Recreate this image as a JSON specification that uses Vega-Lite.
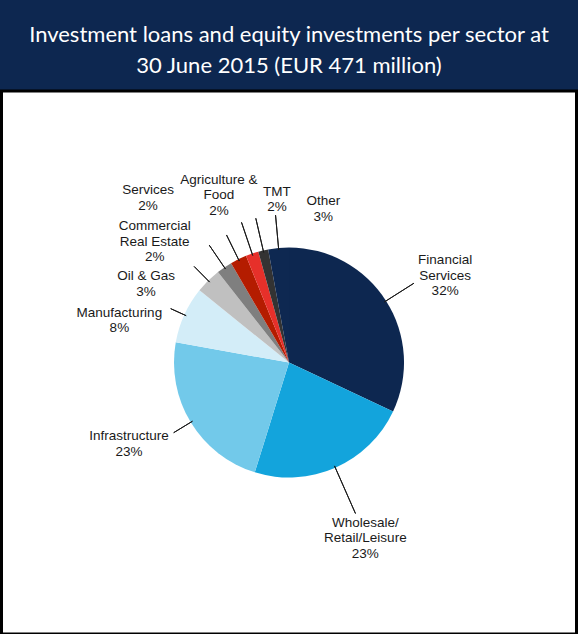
{
  "$schema": "https://vega.github.io/schema/vega-lite/v6.json",
  "width": 578,
  "height": 634,
  "autosize": {"type": "fit", "contains": "padding"},
  "padding": {"left": 1.5, "right": 1.5, "top": 23, "bottom": 0},
  "background": "#0d2750",
  "view": {"fill": "#ffffff", "stroke": "#000000", "strokeWidth": 3},
  "config": {
    "text": {"font": "Liberation Sans", "fontSize": 13.5, "lineHeight": 15.5, "fill": "#1a1a1a", "align": "center", "baseline": "middle", "lineBreak": "\n"}
  },
  "title": {
    "text": ["Investment loans and equity investments per sector at", "30 June 2015 (EUR 471 million)"],
    "color": "white",
    "font": "Lato",
    "fontSize": 22,
    "fontWeight": "normal",
    "lineHeight": 31.5,
    "anchor": "middle",
    "frame": "group",
    "offset": 13
  },
  "data": {
    "values": [
      {"sector": "Financial Services", "label": "Financial\nServices\n32%", "share": 32.0, "idx": 1},
      {"sector": "Wholesale/Retail/Leisure", "label": "Wholesale/\nRetail/Leisure\n23%", "share": 22.8, "idx": 2},
      {"sector": "Infrastructure", "label": "Infrastructure\n23%", "share": 23.0, "idx": 3},
      {"sector": "Manufacturing", "label": "Manufacturing\n8%", "share": 8.0, "idx": 4},
      {"sector": "Oil & Gas", "label": "Oil & Gas\n3%", "share": 3.6, "idx": 5},
      {"sector": "Commercial Real Estate", "label": "Commercial\nReal Estate\n2%", "share": 2.2, "idx": 6},
      {"sector": "Services", "label": "Services\n2%", "share": 2.3, "idx": 7},
      {"sector": "Agriculture & Food", "label": "Agriculture &\nFood\n2%", "share": 1.8, "idx": 8},
      {"sector": "TMT", "label": "TMT\n2%", "share": 1.4, "idx": 9},
      {"sector": "Other", "label": "Other\n3%", "share": 2.9, "idx": 10}
    ]
  },
  "layer": [
    {
      "mark": {"type": "arc", "radius": 115},
      "encoding": {
        "theta": {"field": "share", "type": "quantitative", "stack": true},
        "order": {"field": "idx", "type": "quantitative"},
        "color": {
          "field": "sector", "type": "nominal", "legend": null,
          "scale": {
            "domain": ["Financial Services", "Wholesale/Retail/Leisure", "Infrastructure", "Manufacturing", "Oil & Gas", "Commercial Real Estate", "Services", "Agriculture & Food", "TMT", "Other"],
            "range": ["#0d2750", "#13a4dc", "#72c9ea", "#d3edf8", "#c0c0c0", "#7f7f7f", "#b41c00", "#e6302a", "#333333", "#0e2851"]
          }
        }
      }
    },
    {
      "mark": {"type": "arc", "radius": 130, "radius2": 113, "padAngle": 3, "filled": false, "stroke": "#1a1a1a", "strokeWidth": 1},
      "encoding": {
        "theta": {"field": "share", "type": "quantitative", "stack": true},
        "order": {"field": "idx", "type": "quantitative"},
        "strokeOpacity": {"condition": {"test": "datum.sector === 'Manufacturing'", "value": 1}, "value": 0}
      }
    },
    {
      "mark": {"type": "arc", "radius": 135, "radius2": 113, "padAngle": 3, "filled": false, "stroke": "#1a1a1a", "strokeWidth": 1},
      "encoding": {
        "theta": {"field": "share", "type": "quantitative", "stack": true},
        "order": {"field": "idx", "type": "quantitative"},
        "strokeOpacity": {"condition": {"test": "datum.sector === 'Infrastructure' || datum.sector === 'Oil & Gas'", "value": 1}, "value": 0}
      }
    },
    {
      "mark": {"type": "arc", "radius": 142, "radius2": 113, "padAngle": 3, "filled": false, "stroke": "#1a1a1a", "strokeWidth": 1},
      "encoding": {
        "theta": {"field": "share", "type": "quantitative", "stack": true},
        "order": {"field": "idx", "type": "quantitative"},
        "strokeOpacity": {"condition": {"test": "datum.sector === 'Services' || datum.sector === 'Commercial Real Estate'", "value": 1}, "value": 0}
      }
    },
    {
      "mark": {"type": "arc", "radius": 148, "radius2": 113, "padAngle": 3, "filled": false, "stroke": "#1a1a1a", "strokeWidth": 1},
      "encoding": {
        "theta": {"field": "share", "type": "quantitative", "stack": true},
        "order": {"field": "idx", "type": "quantitative"},
        "strokeOpacity": {"condition": {"test": "indexof(['Financial Services','Agriculture & Food','TMT','Other'], datum.sector) >= 0", "value": 1}, "value": 0}
      }
    },
    {
      "mark": {"type": "arc", "radius": 165, "radius2": 113, "padAngle": 3, "filled": false, "stroke": "#1a1a1a", "strokeWidth": 1},
      "encoding": {
        "theta": {"field": "share", "type": "quantitative", "stack": true},
        "order": {"field": "idx", "type": "quantitative"},
        "strokeOpacity": {"condition": {"test": "datum.sector === 'Wholesale/Retail/Leisure'", "value": 1}, "value": 0}
      }
    },
    {
      "mark": {"type": "text", "radius": 179, "dx": 5, "dy": -6.5},
      "encoding": {
        "theta": {"field": "share", "type": "quantitative", "stack": true},
        "order": {"field": "idx", "type": "quantitative"},
        "text": {"condition": {"test": "datum.sector === 'Financial Services'", "field": "label"}, "value": ""}
      }
    },
    {
      "mark": {"type": "text", "radius": 192, "dx": -1, "dy": -15.5},
      "encoding": {
        "theta": {"field": "share", "type": "quantitative", "stack": true},
        "order": {"field": "idx", "type": "quantitative"},
        "text": {"condition": {"test": "datum.sector === 'Wholesale/Retail/Leisure'", "field": "label"}, "value": ""}
      }
    },
    {
      "mark": {"type": "text", "radius": 178, "dx": -8, "dy": -18.75},
      "encoding": {
        "theta": {"field": "share", "type": "quantitative", "stack": true},
        "order": {"field": "idx", "type": "quantitative"},
        "text": {"condition": {"test": "datum.sector === 'Infrastructure'", "field": "label"}, "value": ""}
      }
    },
    {
      "mark": {"type": "text", "radius": 171, "dx": -14, "dy": 21.25},
      "encoding": {
        "theta": {"field": "share", "type": "quantitative", "stack": true},
        "order": {"field": "idx", "type": "quantitative"},
        "text": {"condition": {"test": "datum.sector === 'Manufacturing'", "field": "label"}, "value": ""}
      }
    },
    {
      "mark": {"type": "text", "radius": 155, "dx": -34, "dy": 24.25},
      "encoding": {
        "theta": {"field": "share", "type": "quantitative", "stack": true},
        "order": {"field": "idx", "type": "quantitative"},
        "text": {"condition": {"test": "datum.sector === 'Oil & Gas'", "field": "label"}, "value": ""}
      }
    },
    {
      "mark": {"type": "text", "radius": 175, "dx": -36, "dy": 8.5},
      "encoding": {
        "theta": {"field": "share", "type": "quantitative", "stack": true},
        "order": {"field": "idx", "type": "quantitative"},
        "text": {"condition": {"test": "datum.sector === 'Commercial Real Estate'", "field": "label"}, "value": ""}
      }
    },
    {
      "mark": {"type": "text", "radius": 209, "dx": -49, "dy": 15.25},
      "encoding": {
        "theta": {"field": "share", "type": "quantitative", "stack": true},
        "order": {"field": "idx", "type": "quantitative"},
        "text": {"condition": {"test": "datum.sector === 'Services'", "field": "label"}, "value": ""}
      }
    },
    {
      "mark": {"type": "text", "radius": 181, "dx": -12, "dy": -11.5},
      "encoding": {
        "theta": {"field": "share", "type": "quantitative", "stack": true},
        "order": {"field": "idx", "type": "quantitative"},
        "text": {"condition": {"test": "datum.sector === 'Agriculture & Food'", "field": "label"}, "value": ""}
      }
    },
    {
      "mark": {"type": "text", "radius": 161, "dx": 24, "dy": -13.75},
      "encoding": {
        "theta": {"field": "share", "type": "quantitative", "stack": true},
        "order": {"field": "idx", "type": "quantitative"},
        "text": {"condition": {"test": "datum.sector === 'TMT'", "field": "label"}, "value": ""}
      }
    },
    {
      "mark": {"type": "text", "radius": 150, "dx": 48, "dy": -11.75},
      "encoding": {
        "theta": {"field": "share", "type": "quantitative", "stack": true},
        "order": {"field": "idx", "type": "quantitative"},
        "text": {"condition": {"test": "datum.sector === 'Other'", "field": "label"}, "value": ""}
      }
    }
  ]
}
